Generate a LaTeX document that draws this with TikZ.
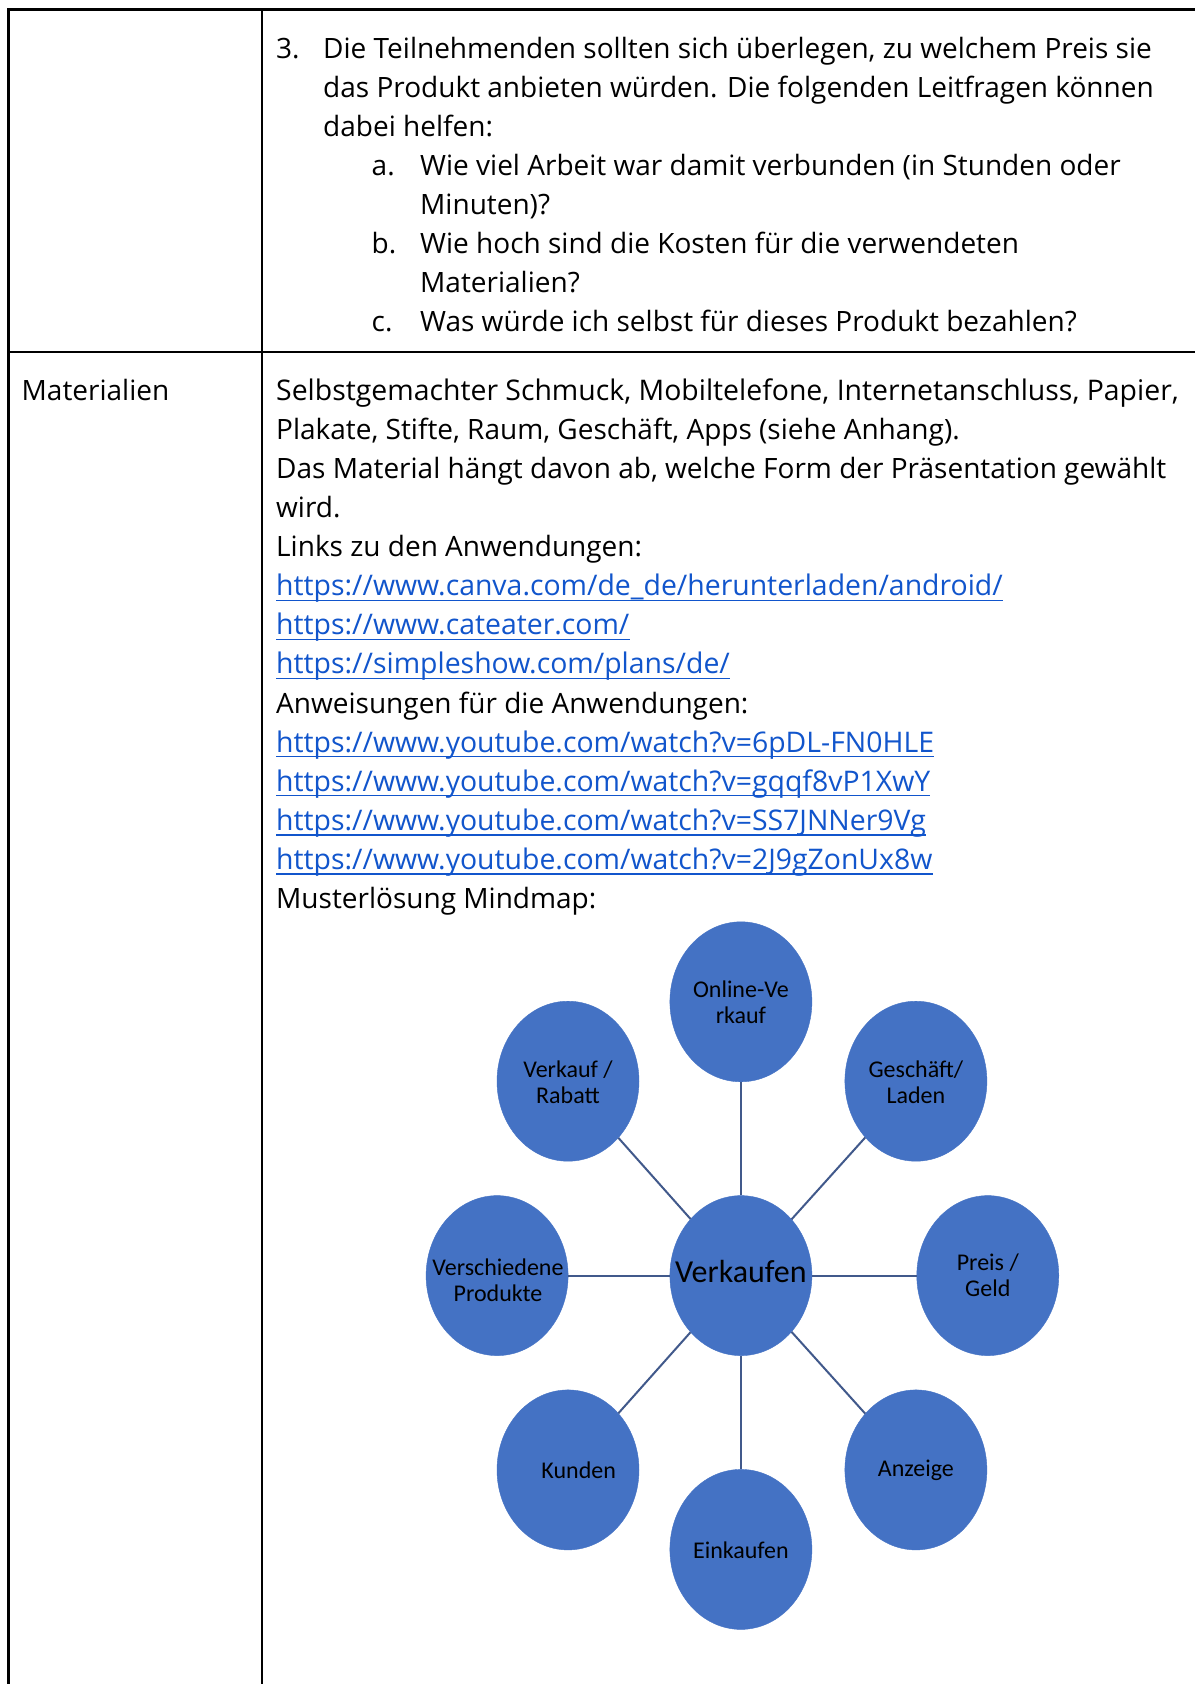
\documentclass[tikz,border=0pt]{standalone}
\usepackage{fontspec}
\setmainfont{Open Sans}
\newfontfamily\mapfont{Carlito}
\usetikzlibrary{shapes.geometric}
\definecolor{linkblue}{HTML}{1155CC}
\definecolor{mapblue}{HTML}{4472C4}
\definecolor{mapline}{HTML}{41598B}
\begin{document}
\begin{tikzpicture}[x=1pt,y=-1pt,
 txt/.style={anchor=base west, inner sep=0pt, font=\fontsize{28}{39}\selectfont, text=black},
 widetxt/.style={txt, font=\fontsize{28.4}{39}\selectfont},
 lnk/.style={widetxt, text=linkblue},
 uline/.style={draw=linkblue, line width=1.6pt},
 bubble/.style={ellipse, fill=mapblue, draw=mapblue, minimum width=142pt, minimum height=160pt, inner sep=0pt},
 maptxt/.style={align=center, inner sep=0pt, font=\mapfont\fontsize{24}{26}\selectfont, text=black},
 hubtxt/.style={align=center, inner sep=0pt, font=\mapfont\fontsize{32}{34}\selectfont, text=black},
 edge/.style={draw=mapline, line width=2pt},
 rule/.style={line width=2.5pt, black}]
\useasboundingbox (0,0) rectangle (1195,1684);
\fill[white] (0,0) rectangle (1195,1684);
% table rules
\draw[rule] (8.6,9.7) -- (1195,9.7);
\draw[rule] (8.6,352) -- (1195,352);
\draw[rule] (8.6,8.45) -- (8.6,1684);
\draw[rule] (262,8.45) -- (262,1684);
% row 1
\node[txt] (n3) at (276,58) {3.};
\node[txt] (l1) at (323,58) {Die Teilnehmenden sollten sich überlegen, zu welchem Preis sie};
\node[txt] (l2) at (323,97) {das Produkt anbieten würden. Die folgenden Leitfragen können};
\node[txt] (l3) at (323,136) {dabei helfen:};
\node[txt] (na) at (371.5,175) {a.};
\node[txt] (l4) at (420,175) {Wie viel Arbeit war damit verbunden (in Stunden oder};
\node[txt] (l5) at (420,214) {Minuten)?};
\node[txt] (nb) at (371.5,253) {b.};
\node[txt] (l6) at (420,253) {Wie hoch sind die Kosten für die verwendeten};
\node[txt] (l7) at (420,292) {Materialien?};
\node[txt] (nc) at (371.5,331) {c.};
\node[txt] (l8) at (420,331) {Was würde ich selbst für dieses Produkt bezahlen?};
% row 2
\node[txt] (mat) at (21.5,400.4) {Materialien};
\node[widetxt] (m1) at (276,400.4) {Selbstgemachter Schmuck, Mobiltelefone, Internetanschluss, Papier,};
\node[txt] (m2) at (276,439.5) {Plakate, Stifte, Raum, Geschäft, Apps (siehe Anhang).};
\node[txt] (m3) at (276,478.5) {Das Material hängt davon ab, welche Form der Präsentation gewählt};
\node[txt] (m4) at (276,517.6) {wird.};
\node[txt] (m5) at (276,556.7) {Links zu den Anwendungen:};
\node[lnk] (u1) at (276,595.8) {https://www.canva.com/de\_de/herunterladen/android/};
\node[lnk] (u2) at (276,634.8) {https://www.cateater.com/};
\node[lnk] (u3) at (276,673.9) {https://simpleshow.com/plans/de/};
\node[txt] (m9) at (276,713) {Anweisungen für die Anwendungen:};
\node[lnk] (u4) at (276,752) {https://www.youtube.com/watch?v=6pDL-FN0HLE};
\node[lnk] (u5) at (276,791.1) {https://www.youtube.com/watch?v=gqqf8vP1XwY};
\node[lnk] (u6) at (276,830.2) {https://www.youtube.com/watch?v=SS7JNNer9Vg};
\node[lnk] (u7) at (276,869.2) {https://www.youtube.com/watch?v=2J9gZonUx8w};
\node[txt] (m14) at (276,908.3) {Musterlösung Mindmap:};
\foreach \u in {u1,u2,u3,u4,u5,u6,u7}
  \draw[uline] ([yshift=-4.5pt]\u.base west) -- ([yshift=-4.5pt]\u.base east);
% mind map
\node[bubble] (hub) at (740.9,1275.6) {};
\node[bubble] (on) at (740.9,1001.8) {};
\node[bubble] (vr) at (568,1081.2) {};
\node[bubble] (gl) at (915.9,1081.2) {};
\node[bubble] (vp) at (497.1,1275.6) {};
\node[bubble] (pg) at (987.8,1275.6) {};
\node[bubble] (ku) at (568,1469.9) {};
\node[bubble] (an) at (915.9,1469.9) {};
\node[bubble] (ei) at (740.9,1549.4) {};
\foreach \b in {on,vr,gl,vp,pg,ku,an,ei}
  \draw[edge] (hub) -- (\b);
\node[hubtxt] (thub) at (740.9,1271) {Verkaufen};
\node[maptxt] (ton) at (740.9,1002.5) {Online-Ve\\rkauf};
\node[maptxt] (tvr) at (568,1082.5) {Verkauf /\\Rabatt};
\node[maptxt] (tgl) at (915.9,1082.5) {Geschäft/\\Laden};
\node[maptxt] (tvp) at (498,1280) {Verschiedene\\Produkte};
\node[maptxt] (tpg) at (987.8,1275.6) {Preis /\\Geld};
\node[maptxt] (tku) at (578.7,1470.5) {Kunden};
\node[maptxt] (tan) at (915.9,1470.5) {Anzeige};
\node[maptxt] (tei) at (740.9,1550) {Einkaufen};
\end{tikzpicture}
\end{document}
